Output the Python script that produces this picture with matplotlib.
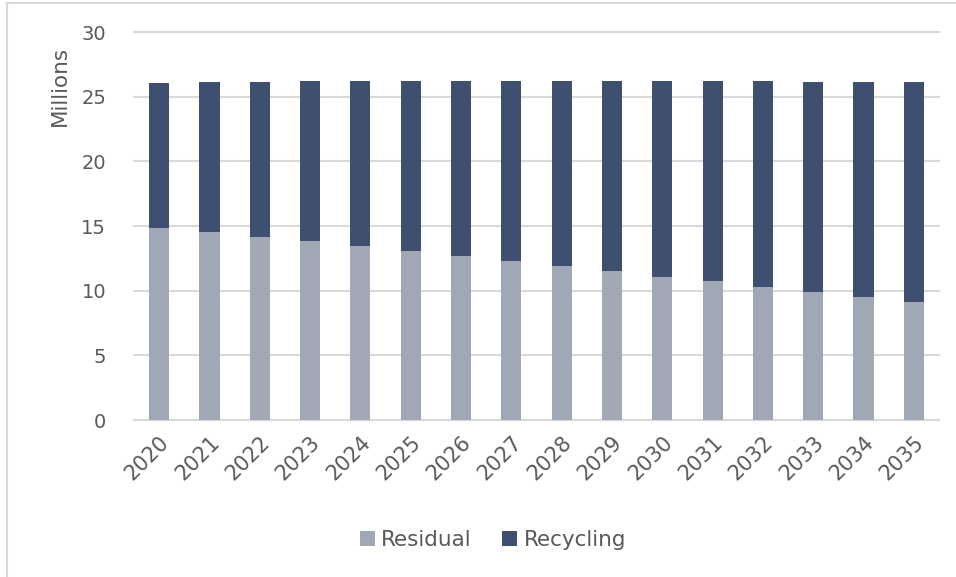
import matplotlib
matplotlib.use("Agg")
import matplotlib.pyplot as plt
from matplotlib.lines import Line2D

years = [str(y) for y in range(2020, 2036)]
totals = [26.06, 26.10, 26.15, 26.20, 26.20, 26.20, 26.20, 26.20,
          26.20, 26.20, 26.20, 26.20, 26.20, 26.15, 26.15, 26.10]
residual = [14.87, 14.54, 14.15, 13.82, 13.44, 13.05, 12.69, 12.28,
            11.90, 11.51, 11.08, 10.72, 10.31, 9.92, 9.48, 9.10]
recycling = [t - r for t, r in zip(totals, residual)]
y_ticks = [0, 5, 10, 15, 20, 25, 30]

c_resid = "#A0A7B5"
c_recyc = "#3F4F6F"
c_text = "#595959"
c_grid = "#D9D9D9"

plt.rcParams["font.family"] = ["DejaVu Sans"]

fig = plt.figure(figsize=(9.56, 5.77), dpi=100)
ax = fig.add_axes([134 / 956, 1 - 420 / 577, (939 - 134) / 956, (420 - 32) / 577])

x = list(range(len(years)))
ax.bar(x, residual, width=0.4, color=c_resid, label="Residual", zorder=3)
ax.bar(x, recycling, width=0.4, bottom=residual, color=c_recyc,
       label="Recycling", zorder=3)

ax.set_xlim(-0.5, len(years) - 0.5)
ax.set_ylim(0, 30)
ax.set_yticks(y_ticks)
ax.yaxis.grid(True, color=c_grid, linewidth=1.5, zorder=0)
for gl in ax.get_ygridlines():
    gl.set_clip_on(False)
ax.set_axisbelow(True)
for s in ["top", "right", "left"]:
    ax.spines[s].set_visible(False)
ax.spines["bottom"].set_color(c_grid)
ax.spines["bottom"].set_linewidth(1.5)
ax.tick_params(axis="y", length=0, colors=c_text, labelsize=14, pad=20)
ax.set_xticks(x)
ax.set_xticklabels(years, rotation=45, ha="right", rotation_mode="anchor")
ax.tick_params(axis="x", length=0, colors=c_text, labelsize=15, pad=9)
ax.set_ylabel("Millions", color=c_text, fontsize=15.5)
ax.yaxis.set_label_coords(-0.08, 0.86)

handles, labels = ax.get_legend_handles_labels()
fig.legend(handles, labels, loc="center", bbox_to_anchor=(493 / 956, 1 - 540 / 577),
           ncol=2, frameon=False, fontsize=15.5, labelcolor=c_text,
           handlelength=0.7, handleheight=0.7, handletextpad=0.3, columnspacing=1.4)

# thin frame along the top and left edges
fig.add_artist(Line2D([7 / 956, 7 / 956], [0, 1 - 3 / 577], color="#D9D9D9",
                      linewidth=1.5, transform=fig.transFigure))
fig.add_artist(Line2D([7 / 956, 1], [1 - 3 / 577, 1 - 3 / 577], color="#D9D9D9",
                      linewidth=1.5, transform=fig.transFigure))

fig.savefig("out.png", dpi=100, facecolor="white")
